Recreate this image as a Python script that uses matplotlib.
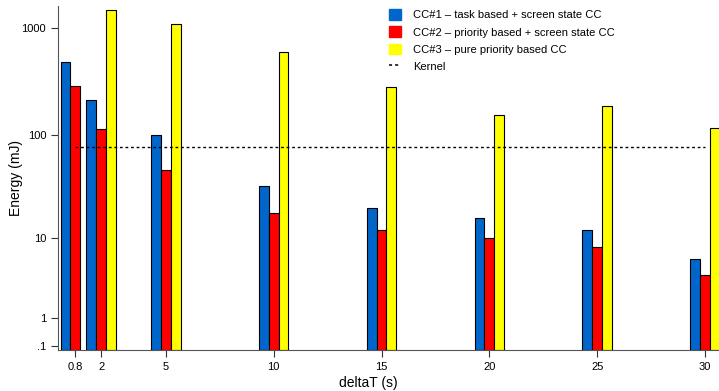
import numpy as np
import matplotlib.pyplot as plt
from matplotlib.patches import Patch
from matplotlib.lines import Line2D

plt.rcParams['font.family'] = ['Liberation Sans', 'DejaVu Sans']

deltas = [0.8, 2, 5, 10, 15, 20, 25, 30]
cc1 = [482, 213, 100, 33, 19.9, 16.1, 12.1, 6.0]
cc2 = [286, 114, 47, 18, 12.1, 10.0, 8.1, 4.0]
cc3 = [np.nan, 1460, 1097, 594, 283, 155, 186, 115]
kernel = 77.5

labels = ['CC#1 \u2013 task based + screen state CC',
          'CC#2 \u2013 priority based + screen state CC',
          'CC#3 \u2013 pure priority based CC',
          'Kernel']
colors = ['#0066cc', '#ff0000', '#ffff00']
yticks = [0.1, 1, 10, 100, 1000]
yticklabels = ['.1', '1', '10', '100', '1000']


def fwd(y):
  return np.log10(np.clip(y, 0, None) + 1)


def inv(t):
  return 10**t - 1


fig = plt.figure(figsize=(7.19, 3.91), dpi=100)
ax = fig.add_axes([0.0807, 0.1049, 0.9193, 0.8798])
ax.set_yscale('function', functions=(fwd, inv))

w = 0.454
x = np.array(deltas)
for off, vals, c in zip([-w, 0, w], [cc1, cc2, cc3], colors):
  ax.bar(x + off, vals, width=w, color=c, edgecolor='black', linewidth=0.8)

ax.plot([deltas[0], deltas[-1]], [kernel, kernel], color='black', linestyle=(0, (2, 2)), linewidth=1)

ax.set_xlim(0.0, 30.65)
ax.set_ylim(0, 1604)
ax.set_xticks(deltas)
ax.set_xticklabels(['0.8', '2', '5', '10', '15', '20', '25', '30'])
ax.set_yticks(yticks)
ax.set_yticklabels(yticklabels)
ax.minorticks_off()
ax.tick_params(axis='both', labelsize=8, length=5, color='#333333', direction='out')
for s in ['top', 'right']:
  ax.spines[s].set_visible(False)
for s in ['left', 'bottom']:
  ax.spines[s].set_color('#555555')

ax.set_ylabel('Energy (mJ)', fontsize=10)
ax.set_xlabel('deltaT (s)', fontsize=10)
ax.yaxis.set_label_coords(-0.053, 0.5)
ax.xaxis.set_label_coords(0.47, -0.075)

handles = [Patch(color=c) for c in colors]
handles.append(Line2D([], [], color='black', linestyle=(0, (2, 2)), linewidth=1.1))
fig.legend(handles, labels, loc='upper left', bbox_to_anchor=(0.527, 1.002),
           frameon=False, fontsize=8, handlelength=1.1, handleheight=1.1,
           labelspacing=0.55, handletextpad=1.1)

fig.savefig('out.png', dpi=100)
